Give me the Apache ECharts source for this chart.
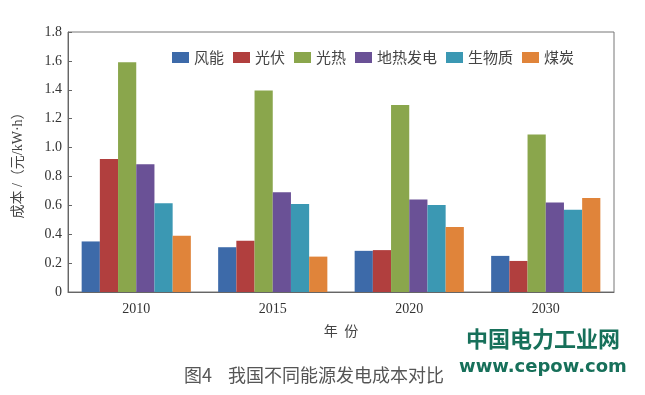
<!DOCTYPE html>
<html>
<head>
<meta charset="utf-8">
<script src="https://cdn.jsdelivr.net/npm/echarts@6/dist/echarts.min.js"></script>
<style>html,body{margin:0;padding:0;background:#fff;}#c{width:645px;height:395px;}</style>
</head>
<body>
<div id="c"></div>
<script>
const categories = ['2010', '2015', '2020', '2030'];
const seriesNames = ['风能', '光伏', '光热', '地热发电', '生物质', '煤炭'];
const windVals = [0.35, 0.31, 0.285, 0.25];
const pvVals = [0.92, 0.355, 0.29, 0.215];
const cspVals = [1.59, 1.395, 1.295, 1.09];
const geoVals = [0.885, 0.69, 0.64, 0.62];
const bioVals = [0.615, 0.61, 0.603, 0.57];
const coalVals = [0.39, 0.245, 0.45, 0.65];
const yTicks = [0, 0.2, 0.4, 0.6, 0.8, 1.0, 1.2, 1.4, 1.6, 1.8];

const colors = ['#3d6aa9', '#b13f3e', '#8aa64c', '#6a5196', '#3b98b3', '#e0843a'];
const allVals = [windVals, pvVals, cspVals, geoVals, bioVals, coalVals];

const chart = echarts.init(document.getElementById('c'), null, {renderer: 'canvas'});
const cjk = '"Noto Sans CJK SC", sans-serif';
const serif = '"Liberation Serif", "DejaVu Serif", serif';
const mixed = '"Liberation Serif", "Noto Sans CJK SC", serif';

chart.setOption({
  animation: false,
  color: colors,
  grid: {left: 68, right: 31, top: 32, bottom: 103, show: true, borderColor: '#777', borderWidth: 1},
  legend: {
    data: seriesNames, left: 167, top: 45, itemWidth: 17, itemHeight: 11, itemGap: 9,
    icon: 'rect',
    textStyle: {fontFamily: cjk, fontSize: 15, color: '#444'}
  },
  xAxis: {
    type: 'category', data: categories,
    axisLine: {lineStyle: {color: '#666'}},
    axisTick: {inside: true, length: 5, lineStyle: {color: '#666'}},
    axisLabel: {fontFamily: serif, fontSize: 14, color: '#333', margin: 10},
    name: '年  份', nameLocation: 'middle', nameGap: 32,
    nameTextStyle: {fontFamily: cjk, fontSize: 14, color: '#444'}
  },
  yAxis: {
    type: 'value', min: 0, max: 1.8, interval: 0.2,
    axisLine: {show: true, lineStyle: {color: '#666'}},
    axisTick: {show: true, inside: true, length: 4, lineStyle: {color: '#666'}},
    splitLine: {show: false},
    axisLabel: {fontFamily: serif, fontSize: 14, color: '#333', margin: 6,
      formatter: v => v === 0 ? '0' : v.toFixed(1)},
    name: '成本 /（元/kW·h）', nameLocation: 'middle', nameGap: 43,
    nameTextStyle: {fontFamily: mixed, fontSize: 14, color: '#444'}
  },
  series: seriesNames.map((n, i) => ({
    name: n, type: 'bar', data: allVals[i], barGap: '0%', barCategoryGap: '20%'
  })),
  graphic: [
    {type: 'text', left: 184, top: 366, style: {text: '图4    我国不同能源发电成本对比', font: '18px ' + cjk, fill: '#555'}},
    {type: 'text', left: 466, top: 328, style: {text: '中国电力工业网', font: 'bold 22px ' + cjk, fill: '#17705a'}},
    {type: 'text', left: 459, top: 358, style: {text: 'www.cepow.com', font: 'bold 18px "DejaVu Sans", sans-serif', fill: '#17705a'}}
  ]
});
</script>
</body>
</html>
